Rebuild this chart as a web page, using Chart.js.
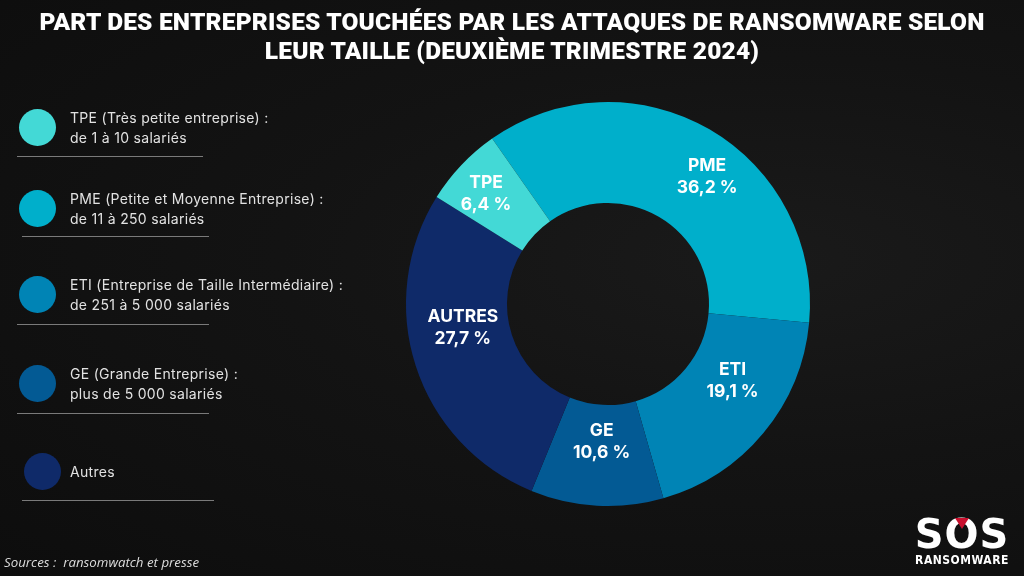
<!DOCTYPE html>
<html lang="fr">
<head>
<meta charset="utf-8">
<script src="https://cdn.jsdelivr.net/npm/chart.js@4.4.1/dist/chart.umd.min.js"></script>
<style>
    html, body { margin: 0; padding: 0; }
    body {
        width: 1024px; height: 576px; overflow: hidden; position: relative;
        background: radial-gradient(ellipse at 75% 45%, #1a1a1a 0%, #131313 45%, #0d0d0d 100%);
        font-family: Inter, "Noto Sans", sans-serif; color: #fff;
    }
    #title {
        position: absolute; left: 0; top: 7px; width: 1024px; text-align: center;
        font-family: Roboto, sans-serif; font-weight: 900; font-size: 24.5px;
        line-height: 29px; letter-spacing: 0.2px; color: #fff;
    }
    #chart-wrap { position: absolute; left: 0; top: 0; width: 1024px; height: 576px; }
    .leg-dot { position: absolute; width: 37px; height: 37px; border-radius: 50%; }
    .leg-text {
        position: absolute; left: 70px; font-size: 14px; line-height: 20px;
        color: #e2e2e2; letter-spacing: 0.3px; white-space: nowrap;
    }
    .leg-sep { position: absolute; height: 1px; background: #7a7a7a; }
    #sources {
        position: absolute; left: 4px; top: 553px; font-family: "Open Sans", sans-serif;
        font-style: italic; font-size: 13.3px; color: #dcdcdc;
    }
    #logo { position: absolute; left: 912px; top: 514px; width: 100px; text-align: center; }
    #logo .sos {
        font-family: "DejaVu Sans", sans-serif; font-weight: 700; font-size: 40px;
        line-height: 40px; letter-spacing: 1px; color: #fff; position: relative;
    }
    #logo .tri {
        position: absolute; left: 43px; top: 4px; width: 0; height: 0;
        border-left: 7px solid transparent; border-right: 7px solid transparent;
        border-top: 11px solid #c8102e;
    }
    #logo .ransom {
        font-family: "DejaVu Sans Condensed", "DejaVu Sans", sans-serif; font-weight: 700;
        font-size: 12px; line-height: 13px; letter-spacing: 0.5px; color: #fff;
    }
</style>
</head>
<body>
<div id="chart-wrap"><canvas id="donut" width="1024" height="576"></canvas></div>
<div id="title">PART DES ENTREPRISES TOUCHÉES PAR LES ATTAQUES DE RANSOMWARE SELON<br>LEUR TAILLE (DEUXIÈME TRIMESTRE 2024)</div>
<div id="legend"></div>
<div id="sources">Sources :&nbsp; ransomwatch et presse</div>
<div id="logo"><div class="sos">SOS<span class="tri"></span></div><div class="ransom">RANSOMWARE</div></div>

<script>
// Data, in drawing order clockwise
const categories = ['PME', 'ETI', 'GE', 'AUTRES', 'TPE'];
const shares = [36.2, 19.1, 10.6, 27.7, 6.4];
const segmentColors = ['#00afcb', '#0084b5', '#035a94', '#0f2a69', '#43d9d6'];

// Legend (its own order)
const legendTitles = [
    'TPE (Très petite entreprise) :',
    'PME (Petite et Moyenne Entreprise) :',
    'ETI (Entreprise de Taille Intermédiaire) :',
    'GE (Grande Entreprise) :',
    'Autres'
];
const legendDetails = [
    'de 1 à 10 salariés',
    'de 11 à 250 salariés',
    'de 251 à 5 000 salariés',
    'plus de 5 000 salariés',
    ''
];
const legendColors = ['#43d9d6', '#00afcb', '#0084b5', '#035a94', '#0f2a69'];

// Legend layout
const legendDotY = [127, 208, 294, 383, 471];
const legendDotX = [37, 37, 37, 37, 42];
const legendSepY = [156, 236, 324, 413, 500];
const legendSepX = [[17, 203], [22, 209], [17, 209], [17, 209], [22, 214]];

// Nudges of the segment labels away from the arc centre point (px)
const labelNudge = [[23, 4], [8, -20], [2, -14], [-1, -23], [-12, -6]];

function buildLegend() {
    const box = document.getElementById('legend');
    legendTitles.forEach((t, i) => {
        const dot = document.createElement('div');
        dot.className = 'leg-dot';
        dot.style.background = legendColors[i];
        dot.style.left = (legendDotX[i] - 18.5) + 'px';
        dot.style.top = (legendDotY[i] - 18.5) + 'px';
        box.appendChild(dot);

        const txt = document.createElement('div');
        txt.className = 'leg-text';
        const lines = legendDetails[i] ? 2 : 1;
        txt.style.top = (legendDotY[i] - lines * 10 + 1) + 'px';
        txt.innerHTML = legendDetails[i] ? t + '<br>' + legendDetails[i] : t;
        box.appendChild(txt);

        const sep = document.createElement('div');
        sep.className = 'leg-sep';
        sep.style.left = legendSepX[i][0] + 'px';
        sep.style.width = (legendSepX[i][1] - legendSepX[i][0]) + 'px';
        sep.style.top = legendSepY[i] + 'px';
        box.appendChild(sep);
    });
}

// Two-line labels inside each ring segment
const segmentLabels = {
    id: 'segmentLabels',
    afterDatasetsDraw(chart) {
        const ctx = chart.ctx;
        const meta = chart.getDatasetMeta(0);
        ctx.save();
        ctx.fillStyle = '#ffffff';
        ctx.textAlign = 'center';
        ctx.textBaseline = 'middle';
        ctx.font = '700 17.5px Inter, "Noto Sans", sans-serif';
        meta.data.forEach((arc, i) => {
            const p = arc.getCenterPoint();
            const x = p.x + labelNudge[i][0];
            const y = p.y + labelNudge[i][1];
            const pct = shares[i].toFixed(1).replace('.', ',') + ' %';
            ctx.fillText(categories[i], x, y - 11);
            ctx.fillText(pct, x, y + 11);
        });
        ctx.restore();
    }
};

const ctx = document.getElementById('donut').getContext('2d');
const donutChart = new Chart(ctx, {
    type: 'doughnut',
    data: {
        labels: categories,
        datasets: [{
            data: shares,
            backgroundColor: segmentColors,
            borderWidth: 0
        }]
    },
    options: {
        responsive: false,
        animation: false,
        cutout: '50%',
        rotation: -35,
        layout: { padding: { left: 406, right: 214, top: 102, bottom: 70 } },
        plugins: {
            legend: { display: false },
            tooltip: { enabled: false }
        }
    },
    plugins: [segmentLabels]
});

buildLegend();
</script>
</body>
</html>
